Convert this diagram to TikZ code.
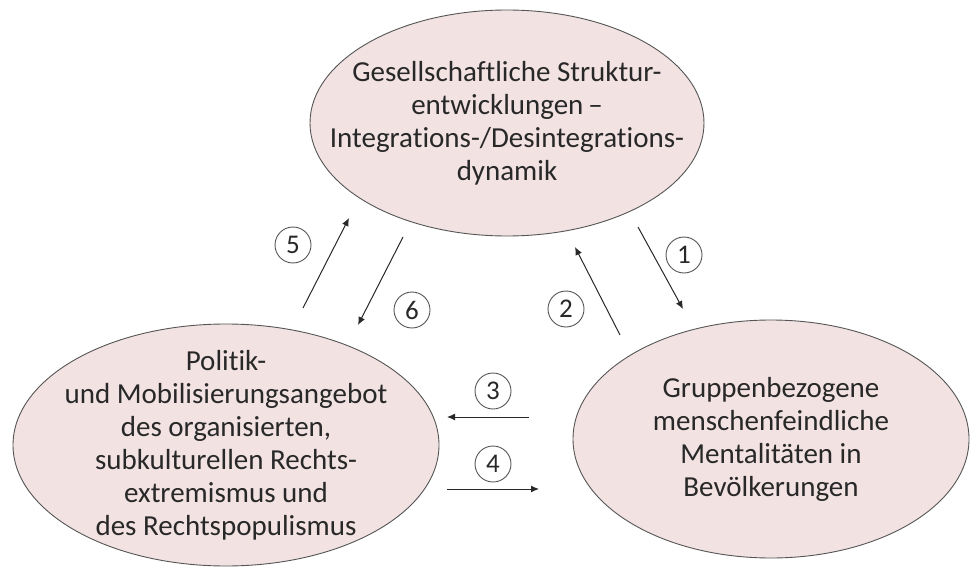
\documentclass[tikz,border=0pt]{standalone}
\usepackage{fontspec}
\setmainfont{Carlito}[Ligatures={NoCommon}]
\usetikzlibrary{shapes.geometric,arrows.meta}
\definecolor{ellfill}{RGB}{242,226,226}
\definecolor{ellline}{RGB}{85,85,85}
\definecolor{txt}{RGB}{40,40,40}
\tikzset{
  blob/.style={ellipse, draw=ellline, line width=0.9pt, fill=ellfill, inner sep=0pt},
  blobtext/.style={align=center, text=txt, inner sep=0pt, font=\fontsize{29}{33}\selectfont},
  num/.style={circle, draw=ellline, line width=0.9pt, minimum size=36pt, inner sep=0pt,
    text=txt, font=\fontsize{27}{28}\selectfont},
  link/.style={draw=txt, line width=1pt, -{Latex[length=8pt,width=7pt]}}
}
\begin{document}
\begin{tikzpicture}[x=1pt,y=-1pt]
\useasboundingbox (0,0) rectangle (971,567);
\node[blob, minimum width=394pt, minimum height=226pt] (T) at (507,123) {};
\node[blobtext] (Tt) at (T.center)
  {Gesellschaftliche Struktur-\\entwicklungen\,–\\Integrations-/Desintegrations-\\dynamik};
\node[blob, minimum width=426pt, minimum height=242pt] (L) at (226,445) {};
\node[blobtext] (Lt) at (L.center)
  {Politik-\\und Mobilisierungsangebot\\des organisierten,\\subkulturellen Rechts-\\extremismus und\\des Rechtspopulismus};
\node[blob, minimum width=396pt, minimum height=238pt] (R) at (771,439) {};
\node[blobtext] (Rt) at (R.center)
  {Gruppenbezogene\\menschenfeindliche\\Mentalitäten in\\Bevölkerungen};
% arrow end points
\coordinate (a1s) at (638,227); \coordinate (a1e) at (683,309);
\coordinate (a2s) at (620,335); \coordinate (a2e) at (575,247);
\coordinate (a3s) at (529,417); \coordinate (a3e) at (447,417);
\coordinate (a4s) at (447,489); \coordinate (a4e) at (539,489);
\coordinate (a5s) at (303,308); \coordinate (a5e) at (349,218);
\coordinate (a6s) at (403,237); \coordinate (a6e) at (358,325);
\draw[link] (a1s) -- (a1e);
\draw[link] (a2s) -- (a2e);
\draw[link] (a3s) -- (a3e);
\draw[link] (a4s) -- (a4e);
\draw[link] (a5s) -- (a5e);
\draw[link] (a6s) -- (a6e);
\node[num] (n1) at (684,255) {1};
\node[num] (n2) at (566,309) {2};
\node[num] (n3) at (493,391) {3};
\node[num] (n4) at (493,464) {4};
\node[num] (n5) at (293,245) {5};
\node[num] (n6) at (412,310) {6};
\end{tikzpicture}
\end{document}
